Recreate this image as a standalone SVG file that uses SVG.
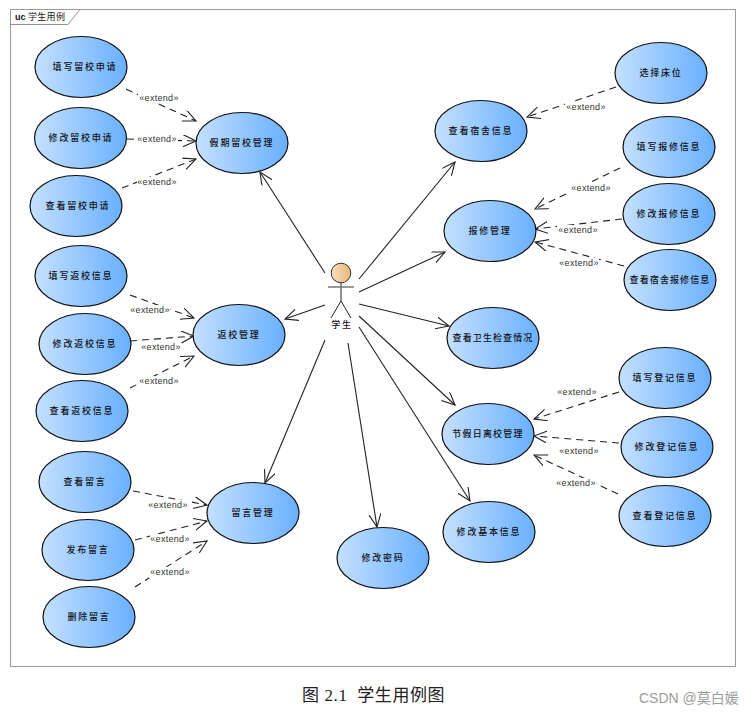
<svg xmlns="http://www.w3.org/2000/svg" width="754" height="714" viewBox="0 0 754 714">
<style>
.uc{stroke:#111;stroke-width:1.2;fill:url(#g)}
.t{font-family:"Noto Sans CJK SC","Liberation Sans",sans-serif;font-size:9px;font-weight:500;letter-spacing:1.8px;fill:#111;text-anchor:middle}
.e{font-family:"Liberation Sans",Arial,sans-serif;font-size:9px;fill:#333;text-anchor:middle;letter-spacing:.3px}
.a{fill:none;stroke:#222;stroke-width:1.1;marker-end:url(#m)}
.d{stroke-dasharray:7 5}
</style>
<defs>
<linearGradient id="g" x1="0" x2="1" y1="0" y2="0"><stop offset="0" stop-color="#c4e0ff"/><stop offset="1" stop-color="#69b0ff"/></linearGradient>
<linearGradient id="h" x1="0" x2="1" y1="0" y2="0"><stop offset="0" stop-color="#f7dfc0"/><stop offset="1" stop-color="#e8b878"/></linearGradient>
<marker id="m" markerUnits="userSpaceOnUse" markerWidth="16" markerHeight="14" refX="13" refY="6" orient="auto" viewBox="0 0 16 14"><path d="M0 0L13 6L0 12" fill="none" stroke="#222" stroke-width="1.1"/></marker>
</defs>
<rect width="754" height="714" fill="#fff"/>
<g id="frame">
<rect x="10.500" y="9.500" width="725" height="657" fill="none" stroke="#9a9a9a" stroke-width="1"/>
<path d="M10.500 24.500H68L80 9.500" fill="none" stroke="#777" stroke-width=".8"/>
<text x="15" y="20" font-family="Liberation Sans,sans-serif" font-size="9" font-weight="700" fill="#111">uc</text>
<text x="28" y="20" font-family="Noto Sans CJK SC,sans-serif" font-size="9" letter-spacing=".3" fill="#222">学生用例</text>
</g>
<g id="connectors">
<path class="a d" d="M126 89L196 121"/>
<path class="a d" d="M127 139L196 141"/>
<path class="a d" d="M122 188L196 159"/>
<path class="a" d="M325 273L260 172"/>
<path class="a d" d="M130 295L194 318"/>
<path class="a d" d="M130 341L194 336"/>
<path class="a d" d="M130 388L194 356"/>
<path class="a" d="M325 305L285 319"/>
<path class="a d" d="M133 491L207 505"/>
<path class="a d" d="M135 540L207 521"/>
<path class="a d" d="M135 587L207 541"/>
<path class="a" d="M325 340L265 483"/>
<path class="a" d="M348 343L377 527"/>
<path class="a" d="M359 327L470 501"/>
<path class="a" d="M359 316L455 405"/>
<path class="a" d="M359 304L449 326"/>
<path class="a" d="M359 292L445 252"/>
<path class="a" d="M359 279L455 162"/>
<path class="a d" d="M616 87L527 117"/>
<path class="a d" d="M620 168L535 209"/>
<path class="a d" d="M622 219L535 229"/>
<path class="a d" d="M624 266L535 242"/>
<path class="a d" d="M619 392L534 419"/>
<path class="a d" d="M619 443L534 436"/>
<path class="a d" d="M618 494L534 455"/>
</g>
<g id="labels">
<rect x="138" y="92" width="41" height="11" fill="#fff"/><text class="e" x="159" y="101">«extend»</text>
<rect x="137" y="133" width="41" height="11" fill="#fff"/><text class="e" x="157" y="142">«extend»</text>
<rect x="137" y="177" width="41" height="11" fill="#fff"/><text class="e" x="157" y="185">«extend»</text>
<rect x="129" y="305" width="41" height="11" fill="#fff"/><text class="e" x="150" y="313">«extend»</text>
<rect x="140" y="342" width="41" height="11" fill="#fff"/><text class="e" x="161" y="350">«extend»</text>
<rect x="139" y="376" width="41" height="11" fill="#fff"/><text class="e" x="159" y="384">«extend»</text>
<rect x="147" y="500" width="41" height="11" fill="#fff"/><text class="e" x="168" y="508">«extend»</text>
<rect x="150" y="534" width="41" height="11" fill="#fff"/><text class="e" x="170" y="542">«extend»</text>
<rect x="149" y="567" width="41" height="11" fill="#fff"/><text class="e" x="170" y="575">«extend»</text>
<rect x="565" y="102" width="41" height="11" fill="#fff"/><text class="e" x="586" y="110">«extend»</text>
<rect x="570" y="183" width="41" height="11" fill="#fff"/><text class="e" x="591" y="191">«extend»</text>
<rect x="557" y="225" width="41" height="11" fill="#fff"/><text class="e" x="578" y="233">«extend»</text>
<rect x="558" y="258" width="41" height="11" fill="#fff"/><text class="e" x="579" y="266">«extend»</text>
<rect x="556" y="387" width="41" height="11" fill="#fff"/><text class="e" x="577" y="395">«extend»</text>
<rect x="559" y="445" width="41" height="11" fill="#fff"/><text class="e" x="579" y="454">«extend»</text>
<rect x="555" y="478" width="41" height="11" fill="#fff"/><text class="e" x="576" y="486">«extend»</text>
</g>
<g id="actor">
<circle cx="341" cy="273" r="9.800" fill="url(#h)" stroke="#333" stroke-width="1"/>
<path d="M341 283V301" stroke="#222" stroke-width="1" fill="none"/>
<path d="M328 287H354" stroke="#777" stroke-width="1.500" fill="none"/>
<path d="M331 318L341 301L351 318" stroke="#222" stroke-width="1" fill="none"/>
<text class="t" x="342" y="328">学生</text>
</g>
<g id="u1"><ellipse class="uc" cx="81" cy="67" rx="46" ry="30.500"/><text class="t" x="85" y="70">填写留校申请</text></g>
<g id="u2"><ellipse class="uc" cx="80.500" cy="138" rx="46" ry="30.500"/><text class="t" x="81" y="141">修改留校申请</text></g>
<g id="u3"><ellipse class="uc" cx="76" cy="206" rx="46" ry="30.500"/><text class="t" x="78" y="209">查看留校申请</text></g>
<g id="u4"><ellipse class="uc" cx="242" cy="143" rx="46" ry="30.500"/><text class="t" x="242" y="146">假期留校管理</text></g>
<g id="u5"><ellipse class="uc" cx="81" cy="276" rx="46" ry="30.500"/><text class="t" x="81" y="279">填写返校信息</text></g>
<g id="u6"><ellipse class="uc" cx="85" cy="344" rx="46" ry="30.500"/><text class="t" x="85" y="347">修改返校信息</text></g>
<g id="u7"><ellipse class="uc" cx="82" cy="411" rx="46" ry="30.500"/><text class="t" x="82" y="414">查看返校信息</text></g>
<g id="u8"><ellipse class="uc" cx="239" cy="335" rx="46" ry="30.500"/><text class="t" x="239" y="338">返校管理</text></g>
<g id="u9"><ellipse class="uc" cx="85" cy="482" rx="46" ry="30.500"/><text class="t" x="85" y="485">查看留言</text></g>
<g id="u10"><ellipse class="uc" cx="88" cy="550" rx="46" ry="30.500"/><text class="t" x="88" y="553">发布留言</text></g>
<g id="u11"><ellipse class="uc" cx="89" cy="617" rx="46" ry="30.500"/><text class="t" x="89" y="620">删除留言</text></g>
<g id="u12"><ellipse class="uc" cx="253" cy="513" rx="46" ry="30.500"/><text class="t" x="253" y="516">留言管理</text></g>
<g id="u13"><ellipse class="uc" cx="383" cy="558" rx="46" ry="30.500"/><text class="t" x="383" y="561">修改密码</text></g>
<g id="u14"><ellipse class="uc" cx="489" cy="532" rx="46" ry="30.500"/><text class="t" x="489" y="535">修改基本信息</text></g>
<g id="u15"><ellipse class="uc" cx="488" cy="434" rx="46" ry="30.500"/><text class="t" x="488" y="437" style="letter-spacing:1.2px">节假日离校管理</text></g>
<g id="u16"><ellipse class="uc" cx="493" cy="338" rx="46" ry="30.500"/><text class="t" x="493" y="341" style="letter-spacing:1.1px">查看卫生检查情况</text></g>
<g id="u17"><ellipse class="uc" cx="490" cy="231" rx="46" ry="30.500"/><text class="t" x="490" y="234">报修管理</text></g>
<g id="u18"><ellipse class="uc" cx="481" cy="131" rx="46" ry="30.500"/><text class="t" x="481" y="134">查看宿舍信息</text></g>
<g id="u19"><ellipse class="uc" cx="661" cy="73" rx="46" ry="30.500"/><text class="t" x="661" y="76">选择床位</text></g>
<g id="u20"><ellipse class="uc" cx="669" cy="147" rx="46" ry="30.500"/><text class="t" x="669" y="150">填写报修信息</text></g>
<g id="u21"><ellipse class="uc" cx="669" cy="214" rx="46" ry="30.500"/><text class="t" x="669" y="217">修改报修信息</text></g>
<g id="u22"><ellipse class="uc" cx="670" cy="280" rx="46" ry="30.500"/><text class="t" x="670" y="283" style="letter-spacing:1.1px">查看宿舍报修信息</text></g>
<g id="u23"><ellipse class="uc" cx="665" cy="378" rx="46" ry="30.500"/><text class="t" x="665" y="381">填写登记信息</text></g>
<g id="u24"><ellipse class="uc" cx="667" cy="447" rx="46" ry="30.500"/><text class="t" x="667" y="450">修改登记信息</text></g>
<g id="u25"><ellipse class="uc" cx="665" cy="516" rx="46" ry="30.500"/><text class="t" x="665" y="519">查看登记信息</text></g>
<g id="caption">
<text x="302" y="701" font-family="Liberation Serif,Noto Sans CJK SC,serif" font-size="17" letter-spacing=".6" fill="#222" xml:space="preserve">图 2.1  学生用例图</text>
<text x="639" y="703" font-family="Liberation Sans,Noto Sans CJK SC,sans-serif" font-size="14" fill="#9c9c9c">CSDN @莫白媛</text>
</g>
</svg>
